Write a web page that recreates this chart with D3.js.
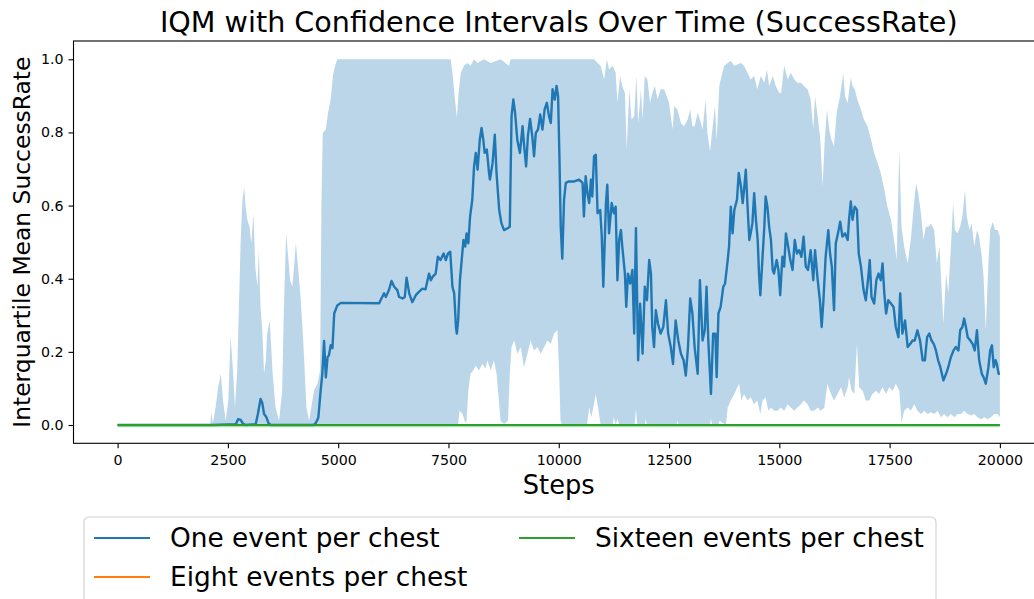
<!DOCTYPE html>
<html><head><meta charset="utf-8">
<script src="https://cdn.jsdelivr.net/npm/d3@7"></script>
<style>html,body{margin:0;padding:0;background:#fff;} text{font-family:"DejaVu Sans",sans-serif;}</style>
</head><body><svg id="c" width="1034" height="599"></svg>
<script>
const titleText = "IQM with Confidence Intervals Over Time (SuccessRate)";
const xLabel = "Steps";
const yLabel = "Interquartile Mean SuccessRate";
const seriesNames = ["One event per chest","Eight events per chest","Sixteen events per chest"];
const seriesColors = ["#1f77b4","#ff7f0e","#2ca02c"];
const xTicks = [0,2500,5000,7500,10000,12500,15000,17500,20000];
const yTicks = [0.0,0.2,0.4,0.6,0.8,1.0];

// IQM for "One event per chest" [step, value]
const iqmOne = [[0,0],[2150,0],[2680,0.002],[2730,0.016],[2790,0.014],[2840,0.004],[2900,0],[3130,0.002],[3180,0.03],[3240,0.071],[3280,0.06],[3320,0.03],[3370,0.022],[3420,0.005],[3470,0],[4440,0],[4490,0.005],[4550,0.02],[4600,0.09],[4640,0.14],[4680,0.23],[4720,0.13],[4760,0.186],[4790,0.19],[4830,0.218],[4870,0.21],[4910,0.305],[4980,0.327],[5060,0.334],[5930,0.333],[5960,0.341],[6040,0.36],[6080,0.35],[6150,0.369],[6210,0.394],[6270,0.378],[6340,0.369],[6380,0.35],[6460,0.346],[6510,0.35],[6550,0.403],[6610,0.36],[6680,0.336],[6760,0.355],[6830,0.364],[6910,0.373],[6980,0.371],[7060,0.414],[7100,0.396],[7140,0.405],[7210,0.414],[7260,0.46],[7320,0.451],[7390,0.469],[7440,0.451],[7490,0.469],[7540,0.474],[7590,0.378],[7630,0.36],[7670,0.268],[7690,0.25],[7720,0.286],[7760,0.396],[7800,0.451],[7840,0.506],[7880,0.488],[7910,0.524],[7950,0.497],[7990,0.57],[8040,0.616],[8080,0.707],[8120,0.744],[8160,0.698],[8210,0.78],[8250,0.812],[8290,0.78],[8320,0.744],[8370,0.753],[8420,0.689],[8440,0.671],[8500,0.716],[8550,0.794],[8590,0.689],[8650,0.588],[8700,0.552],[8760,0.533],[8840,0.538],[8890,0.542],[8930,0.844],[8970,0.89],[9010,0.854],[9060,0.78],[9120,0.744],[9180,0.817],[9210,0.771],[9260,0.707],[9300,0.789],[9350,0.837],[9400,0.789],[9440,0.735],[9480,0.799],[9530,0.808],[9580,0.849],[9630,0.808],[9680,0.863],[9730,0.881],[9780,0.844],[9820,0.826],[9860,0.918],[9910,0.89],[9950,0.927],[9985,0.899],[10015,0.735],[10045,0.542],[10080,0.455],[10120,0.616],[10160,0.662],[10230,0.666],[10350,0.666],[10460,0.671],[10540,0.662],[10570,0.57],[10610,0.68],[10650,0.634],[10690,0.607],[10730,0.671],[10760,0.625],[10800,0.735],[10840,0.739],[10880,0.579],[10940,0.588],[10975,0.515],[11010,0.378],[11070,0.607],[11100,0.657],[11140,0.524],[11200,0.607],[11250,0.579],[11290,0.597],[11330,0.396],[11370,0.506],[11410,0.533],[11440,0.488],[11500,0.414],[11530,0.323],[11570,0.414],[11620,0.387],[11670,0.424],[11710,0.25],[11750,0.538],[11800,0.177],[11845,0.332],[11900,0.195],[11950,0.378],[12000,0.341],[12050,0.451],[12090,0.414],[12120,0.268],[12160,0.213],[12200,0.314],[12250,0.277],[12310,0.25],[12370,0.268],[12430,0.341],[12480,0.25],[12540,0.213],[12590,0.167],[12650,0.286],[12710,0.231],[12770,0.195],[12830,0.177],[12880,0.135],[12930,0.213],[12980,0.346],[13030,0.305],[13080,0.213],[13150,0.14],[13200,0.396],[13260,0.231],[13310,0.259],[13350,0.378],[13390,0.231],[13450,0.085],[13500,0.25],[13550,0.25],[13580,0.131],[13620,0.305],[13670,0.323],[13730,0.378],[13770,0.387],[13830,0.451],[13860,0.488],[13900,0.597],[13940,0.524],[13980,0.588],[14040,0.616],[14080,0.689],[14130,0.652],[14170,0.607],[14200,0.643],[14240,0.698],[14280,0.597],[14320,0.506],[14350,0.524],[14390,0.552],[14430,0.634],[14470,0.561],[14510,0.506],[14540,0.414],[14570,0.355],[14620,0.46],[14660,0.542],[14690,0.625],[14730,0.597],[14770,0.542],[14810,0.506],[14850,0.424],[14880,0.414],[14940,0.451],[14980,0.424],[15020,0.355],[15070,0.46],[15110,0.433],[15150,0.524],[15200,0.488],[15250,0.451],[15300,0.424],[15350,0.506],[15400,0.469],[15450,0.478],[15500,0.46],[15550,0.515],[15600,0.433],[15650,0.424],[15710,0.478],[15770,0.396],[15810,0.478],[15870,0.396],[15920,0.341],[15960,0.268],[16000,0.341],[16050,0.46],[16110,0.533],[16150,0.469],[16190,0.433],[16240,0.314],[16280,0.497],[16330,0.524],[16380,0.556],[16430,0.515],[16490,0.524],[16550,0.506],[16580,0.561],[16620,0.611],[16660,0.561],[16710,0.597],[16760,0.588],[16800,0.469],[16850,0.433],[16910,0.369],[16960,0.341],[17010,0.396],[17050,0.451],[17090,0.35],[17150,0.332],[17200,0.396],[17250,0.414],[17300,0.396],[17340,0.442],[17380,0.36],[17420,0.305],[17470,0.341],[17530,0.332],[17590,0.323],[17640,0.268],[17700,0.24],[17740,0.36],[17790,0.25],[17850,0.286],[17910,0.213],[17970,0.222],[18020,0.231],[18070,0.231],[18130,0.259],[18190,0.231],[18250,0.177],[18300,0.177],[18350,0.24],[18400,0.25],[18450,0.231],[18500,0.222],[18550,0.204],[18600,0.177],[18650,0.158],[18720,0.122],[18780,0.14],[18830,0.158],[18890,0.186],[18950,0.204],[19000,0.213],[19060,0.204],[19100,0.259],[19150,0.268],[19190,0.291],[19230,0.268],[19270,0.24],[19330,0.231],[19380,0.222],[19430,0.204],[19480,0.259],[19530,0.177],[19590,0.14],[19630,0.131],[19680,0.113],[19740,0.158],[19780,0.204],[19820,0.218],[19860,0.158],[19900,0.177],[19930,0.167],[19970,0.14],[20000,0.14]];

// Upper confidence bound, "One event per chest"
const upperOne = [[0,0],[2100,0],[2120,0.035],[2160,0.005],[2220,0.048],[2280,0.103],[2340,0.14],[2390,0.067],[2450,0.012],[2510,0.067],[2560,0.245],[2620,0.14],[2660,0.048],[2710,0.149],[2750,0.323],[2790,0.506],[2830,0.616],[2870,0.652],[2900,0.597],[2940,0.561],[2990,0.542],[3030,0.497],[3080,0.579],[3120,0.433],[3170,0.378],[3200,0.478],[3240,0.323],[3280,0.259],[3320,0.14],[3360,0.177],[3390,0.25],[3450,0.286],[3510,0.149],[3580,0.048],[3660,0.012],[3730,0.094],[3770,0.323],[3820,0.524],[3860,0.469],[3910,0.396],[3960,0.378],[4000,0.433],[4040,0.497],[4090,0.433],[4140,0.36],[4190,0.268],[4230,0.177],[4280,0.048],[4340,0.012],[4390,0.048],[4450,0.094],[4530,0.113],[4590,0.149],[4620,0.6],[4650,0.799],[4720,0.808],[4770,0.854],[4830,0.89],[4880,0.954],[4930,0.982],[4980,1.0],[7550,1.0],[7590,0.963],[7640,0.899],[7690,0.84],[7730,0.909],[7780,0.963],[7850,0.982],[7930,0.99],[8000,0.982],[8080,1.0],[8160,0.99],[8300,1.0],[8460,0.99],[8680,1.0],[8870,0.982],[8910,1.0],[10800,1.0],[10880,0.99],[10950,0.982],[11030,0.945],[11090,1.0],[11140,0.972],[11220,0.982],[11290,0.963],[11330,0.881],[11390,0.954],[11440,0.927],[11500,0.908],[11540,0.753],[11600,0.918],[11650,0.835],[11710,0.844],[11760,0.954],[11800,0.826],[11840,0.881],[11860,0.918],[11900,0.835],[11950,0.954],[12010,0.945],[12070,0.881],[12120,0.908],[12180,0.927],[12240,0.89],[12310,0.918],[12390,0.918],[12450,0.899],[12500,0.881],[12580,0.808],[12620,0.872],[12690,0.863],[12770,0.826],[12840,0.817],[12920,0.835],[12980,0.863],[13030,0.817],[13080,0.817],[13150,0.854],[13200,0.835],[13260,0.808],[13330,0.89],[13370,0.799],[13430,0.748],[13490,0.817],[13540,0.872],[13580,0.78],[13640,0.927],[13690,0.954],[13750,0.982],[13830,0.99],[13900,0.995],[13980,0.982],[14050,0.986],[14130,0.99],[14200,0.982],[14280,0.963],[14350,0.945],[14430,0.954],[14500,0.918],[14580,0.954],[14660,0.936],[14720,0.972],[14770,0.927],[14850,0.954],[14920,0.927],[15000,0.908],[15040,0.908],[15110,0.982],[15190,0.945],[15260,0.963],[15340,0.945],[15410,0.936],[15490,0.936],[15560,0.927],[15640,0.918],[15710,0.89],[15770,0.808],[15810,0.899],[15870,0.844],[15930,0.78],[15980,0.652],[16030,0.78],[16080,0.863],[16130,0.808],[16180,0.78],[16240,0.762],[16300,0.854],[16360,0.89],[16400,0.918],[16450,0.963],[16490,0.899],[16550,0.881],[16620,0.95],[16660,0.927],[16710,0.918],[16770,0.89],[16850,0.863],[16920,0.835],[17000,0.817],[17080,0.78],[17150,0.744],[17230,0.716],[17300,0.689],[17380,0.643],[17450,0.597],[17530,0.561],[17600,0.506],[17660,0.451],[17720,0.753],[17770,0.542],[17830,0.488],[17910,0.442],[17980,0.506],[18060,0.616],[18100,0.661],[18150,0.634],[18210,0.579],[18270,0.506],[18320,0.542],[18380,0.542],[18440,0.55],[18510,0.533],[18570,0.442],[18630,0.488],[18680,0.369],[18720,0.277],[18780,0.414],[18830,0.36],[18890,0.488],[18940,0.607],[18980,0.533],[19040,0.524],[19100,0.542],[19150,0.57],[19210,0.643],[19250,0.57],[19310,0.533],[19360,0.551],[19420,0.488],[19480,0.533],[19530,0.515],[19590,0.46],[19630,0.405],[19680,0.259],[19740,0.442],[19780,0.533],[19840,0.556],[19890,0.533],[19950,0.533],[20000,0.515]];

// Lower confidence bound, "One event per chest"
const lowerOne = [[0,0],[7720,0],[7750,0.039],[7820,0.03],[7880,0.006],[7910,0.01],[7950,0.094],[8000,0.14],[8060,0.149],[8120,0.163],[8190,0.149],[8270,0.167],[8340,0.154],[8380,0.177],[8460,0.149],[8530,0.177],[8590,0.14],[8630,0.085],[8680,0.012],[8760,0.003],[8850,0.012],[8890,0.14],[8930,0.213],[8990,0.231],[9060,0.195],[9140,0.213],[9210,0.158],[9290,0.195],[9360,0.231],[9440,0.204],[9520,0.213],[9590,0.195],[9670,0.213],[9740,0.231],[9820,0.222],[9890,0.25],[9970,0.259],[10010,0.14],[10040,0.012],[10080,0],[10640,0],[10690,0.048],[10740,0.021],[10840,0.085],[10890,0.048],[10950,0],[11220,0],[11250,0.021],[11290,0],[11330,0.017],[11370,0],[11720,0],[11750,0.044],[11780,0],[11950,0],[11970,0.017],[12000,0],[12670,0],[12690,0.012],[12720,0],[13430,0],[13450,0.017],[13480,0],[13620,0],[13640,0.012],[13790,0],[13830,0.048],[13900,0.067],[13980,0.085],[14050,0.103],[14090,0.113],[14140,0.067],[14200,0.085],[14280,0.067],[14350,0.076],[14430,0.057],[14500,0.067],[14570,0.03],[14620,0.067],[14690,0.076],[14750,0.039],[14810,0.048],[14880,0.039],[14960,0.039],[15030,0.048],[15110,0.039],[15190,0.057],[15260,0.048],[15340,0.039],[15410,0.048],[15490,0.057],[15560,0.067],[15640,0.057],[15710,0.039],[15790,0.039],[15870,0.048],[15940,0.039],[16020,0.048],[16090,0.113],[16170,0.085],[16240,0.067],[16320,0.085],[16400,0.103],[16470,0.076],[16550,0.103],[16580,0.131],[16640,0.094],[16700,0.085],[16760,0.222],[16810,0.103],[16890,0.094],[16960,0.067],[17040,0.067],[17110,0.085],[17190,0.094],[17260,0.085],[17340,0.103],[17420,0.085],[17490,0.103],[17570,0.094],[17640,0.113],[17720,0.094],[17770,0.007],[17830,0.039],[17910,0.048],[17980,0.039],[18060,0.057],[18130,0.039],[18210,0.03],[18290,0.039],[18360,0.03],[18440,0.035],[18510,0.03],[18590,0.039],[18660,0.021],[18740,0.03],[18810,0.021],[18890,0.03],[18970,0.021],[19040,0.03],[19120,0.03],[19190,0.039],[19270,0.03],[19340,0.026],[19420,0.03],[19490,0.021],[19570,0.016],[19650,0.021],[19720,0.016],[19800,0.021],[19870,0.03],[19950,0.03],[20000,0.021]];

// Eight and Sixteen events per chest: flat zero
const iqmEight = [[0,0],[20000,0]];
const iqmSixteen = [[0,0],[20000,0]];

const svg = d3.select("#c");
svg.append("rect").attr("width",1034).attr("height",599).attr("fill","#fff");
const L=73.5, R=1044, T=41, B=443.3;
const x = d3.scaleLinear().domain([-1000,21000]).range([L,R]);
const y = d3.scaleLinear().domain([-0.05,1.05]).range([B,T]);

svg.append("defs").append("clipPath").attr("id","clip").append("rect")
  .attr("x",L).attr("y",T).attr("width",R-L).attr("height",B-T);
const plot = svg.append("g").attr("clip-path","url(#clip)");

const ln = d3.line().x(d=>x(d[0])).y(d=>y(d[1]));
// band
plot.append("path").attr("d", ln(upperOne.concat(lowerOne.slice().reverse()))+"Z")
  .attr("fill",seriesColors[0]).attr("fill-opacity",0.3).attr("stroke","none");
plot.append("path").attr("d",ln(iqmOne)).attr("fill","none").attr("stroke",seriesColors[0])
  .attr("stroke-width",2.4).attr("stroke-linejoin","round");
plot.append("path").attr("d",ln(iqmEight)).attr("fill","none").attr("stroke",seriesColors[1]).attr("stroke-width",2.2);
plot.append("path").attr("d",ln(iqmSixteen)).attr("transform","translate(0,1.2)").attr("fill","none").attr("stroke",seriesColors[2]).attr("stroke-opacity",0.35).attr("stroke-width",2);
plot.append("path").attr("d",ln(iqmSixteen)).attr("fill","none").attr("stroke",seriesColors[2]).attr("stroke-width",2.2);

// axes
const xa = svg.append("g").attr("transform",`translate(0,${B})`)
  .call(d3.axisBottom(x).tickValues(xTicks).tickFormat(d3.format("d")).tickSize(5).tickPadding(7).tickSizeOuter(0));
const ya = svg.append("g").attr("transform",`translate(${L},0)`)
  .call(d3.axisLeft(y).tickValues(yTicks).tickFormat(d3.format(".1f")).tickSize(5).tickPadding(5).tickSizeOuter(0));
[xa,ya].forEach(a=>{
  a.select(".domain").remove();
  a.selectAll("line").attr("stroke","#000").attr("stroke-width",1.1);
  a.selectAll("text").attr("font-size","14.2px").attr("fill","#000").style("font-family","DejaVu Sans");
});
// spines
svg.append("rect").attr("x",L).attr("y",T).attr("width",R-L).attr("height",B-T)
  .attr("fill","none").attr("stroke","#000").attr("stroke-width",1.1);

svg.append("text").attr("x",(L+R)/2).attr("y",32).attr("text-anchor","middle")
  .attr("font-size","28.6px").attr("fill","#000").text(titleText);
svg.append("text").attr("x",(L+R)/2).attr("y",494).attr("text-anchor","middle")
  .attr("font-size","25.7px").attr("fill","#000").text(xLabel);
svg.append("text").attr("transform",`translate(30,${(T+B)/2}) rotate(-90)`).attr("text-anchor","middle")
  .attr("font-size","23.4px").attr("fill","#000").text(yLabel);

// legend
const lg = svg.append("g");
lg.append("rect").attr("x",84).attr("y",517).attr("width",852).attr("height",110).attr("rx",5)
  .attr("fill","#fff").attr("fill-opacity",0.8).attr("stroke","#d0d0d0").attr("stroke-width",1.1);
const items = [
  {i:0, hx:94, tx:170, cy:538},
  {i:1, hx:94, tx:170, cy:577},
  {i:2, hx:519, tx:595, cy:538}
];
items.forEach(it=>{
  lg.append("line").attr("x1",it.hx).attr("x2",it.hx+56).attr("y1",it.cy).attr("y2",it.cy)
    .attr("stroke",seriesColors[it.i]).attr("stroke-width",2.2);
  lg.append("text").attr("x",it.tx).attr("y",it.cy+9.4).attr("font-size","26.4px").attr("fill","#000").text(seriesNames[it.i]);
});
</script></body></html>
